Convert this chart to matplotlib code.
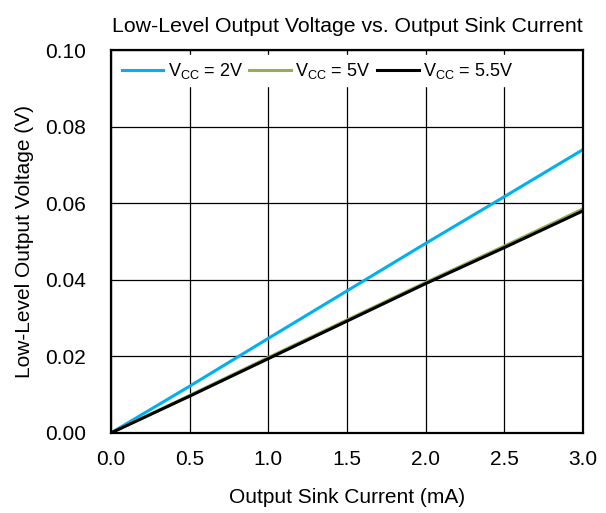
import matplotlib.pyplot as plt
import numpy as np

plt.rcParams['font.family'] = ['Liberation Sans', 'DejaVu Sans']
plt.rcParams['mathtext.fontset'] = 'custom'
plt.rcParams['mathtext.rm'] = 'Liberation Sans'
plt.rcParams['mathtext.default'] = 'regular'

# sink current (mA)
current = [0, 0.5, 1.0, 1.5, 2.0, 2.5, 3.0]
# output voltage (V)
vol_2v = [0, 0.0122, 0.0247, 0.0371, 0.0495, 0.0617, 0.0740]
vol_5v = [0, 0.0098, 0.0197, 0.0295, 0.0393, 0.0488, 0.0585]
vol_55v = [0, 0.0096, 0.0194, 0.0292, 0.0390, 0.0484, 0.0580]

labels = ['V$_{CC}$ = 2V', 'V$_{CC}$ = 5V', 'V$_{CC}$ = 5.5V']
colors = ['#00B0F0', '#92B050', '#000000']

fig = plt.figure(figsize=(6.06, 5.13), dpi=100)
ax = fig.add_axes([0.183, 0.156, 0.779, 0.7465])

for ys, lab, c in zip([vol_2v, vol_5v, vol_55v], labels, colors):
    ax.plot(current, ys, color=c, linewidth=2.2, label=lab)

ax.set_xlim(0, 3.0)
ax.set_ylim(0, 0.10)
xt = np.arange(0, 3.01, 0.5)
yt = np.arange(0, 0.101, 0.02)
ax.set_xticks(xt)
ax.set_yticks(yt)
ax.set_xticklabels([f'{v:.1f}' for v in xt])
ax.set_yticklabels([f'{v:.2f}' for v in yt])
ax.grid(True, color='black', linewidth=0.9)
ax.tick_params(labelsize=15, length=0)
ax.tick_params(axis='y', pad=18)
ax.tick_params(axis='x', pad=12)
for s in ax.spines.values():
    s.set_linewidth(1.6)

ax.set_xlabel('Output Sink Current (mA)', fontsize=15, labelpad=14)
ax.set_ylabel('Low-Level Output Voltage (V)', fontsize=15, labelpad=8)
ax.set_title('Low-Level Output Voltage vs. Output Sink Current', fontsize=15.3, pad=13)

ax.legend(loc='upper left', ncol=3, frameon=True, fancybox=False, edgecolor='white',
          fontsize=13, handlelength=2.3, handletextpad=0.25, columnspacing=0.35,
          borderaxespad=0.3, borderpad=0.3, framealpha=1)

fig.savefig('out.png', dpi=100)
